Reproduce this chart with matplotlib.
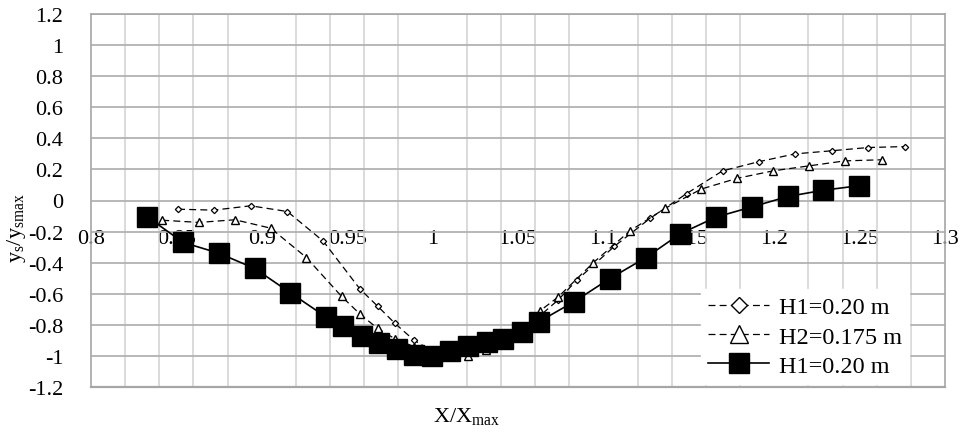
import matplotlib
matplotlib.use("Agg")
import matplotlib.pyplot as plt
from matplotlib.lines import Line2D
from matplotlib.ticker import FixedLocator, FixedFormatter, MultipleLocator
import numpy as np

plt.rcParams['font.family'] = ['Liberation Serif', 'DejaVu Serif']
plt.rcParams['mathtext.fontset'] = 'custom'
plt.rcParams['mathtext.rm'] = 'Liberation Serif'
plt.rcParams['lines.scale_dashes'] = False

# ---------------- data ----------------
x_h1_dash = [0.851, 0.872, 0.8935, 0.915, 0.936, 0.9575, 0.968, 0.978, 0.989, 1.0,
             1.0105, 1.021, 1.0315, 1.042, 1.0525, 1.063, 1.0735, 1.0847, 1.1064,
             1.1273, 1.1488, 1.1698, 1.1911, 1.2122, 1.2337, 1.2551, 1.2766]
y_h1_dash = [-0.056, -0.062, -0.034, -0.071, -0.262, -0.570, -0.682, -0.791, -0.898, -0.97,
             -0.985, -0.96, -0.93, -0.89, -0.83, -0.74, -0.64, -0.51, -0.295,
             -0.115, 0.045, 0.191, 0.250, 0.300, 0.320, 0.341, 0.347]

x_h2 = [0.8417, 0.8632, 0.8843, 0.9052, 0.9261, 0.9467, 0.9575, 0.9678, 0.978, 0.989,
        1.0, 1.0105, 1.021, 1.0315, 1.042, 1.0525, 1.0629, 1.0736, 1.0941, 1.1156,
        1.1362, 1.1574, 1.1784, 1.1995, 1.2205, 1.2414, 1.2629]
y_h2 = [-0.127, -0.141, -0.124, -0.178, -0.367, -0.617, -0.731, -0.823, -0.89, -0.94,
        -0.97, -0.99, -1.0, -0.96, -0.92, -0.85, -0.71, -0.62, -0.40, -0.195,
        -0.05, 0.074, 0.143, 0.191, 0.223, 0.255, 0.262]

x_h1_solid = [0.8329, 0.854, 0.8748, 0.8958, 0.9166, 0.9374, 0.9477, 0.9584, 0.9686, 0.979,
              0.9891, 0.9998, 1.0102, 1.0209, 1.0317, 1.0414, 1.0521, 1.0624, 1.083, 1.1038,
              1.1249, 1.145, 1.1659, 1.187, 1.2081, 1.2287, 1.2497]
y_h1_solid = [-0.105, -0.270, -0.339, -0.437, -0.593, -0.748, -0.808, -0.870, -0.920, -0.956,
              -0.994, -1.0, -0.971, -0.934, -0.913, -0.892, -0.849, -0.779, -0.650, -0.502,
              -0.367, -0.214, -0.107, -0.041, 0.026, 0.066, 0.095]

labels = ["H1=0.20 m", "H2=0.175 m", "H1=0.20 m"]

x_ticks = [0.8, 0.85, 0.9, 0.95, 1.0, 1.05, 1.1, 1.15, 1.2, 1.25, 1.3]
x_tick_labels = ["0.8", "0.85", "0.9", "0.95", "1", "1.05", "1.1", "1.15", "1.2", "1.25", "1.3"]
y_ticks = [1.2, 1.0, 0.8, 0.6, 0.4, 0.2, 0.0, -0.2, -0.4, -0.6, -0.8, -1.0, -1.2]
y_tick_labels = ["1.2", "1", "0.8", "0.6", "0.4", "0.2", "0", "-0.2", "-0.4", "-0.6", "-0.8", "-1", "-1.2"]

# ---------------- figure ----------------
fig = plt.figure(figsize=(9.63, 4.35), dpi=100)
ax = fig.add_axes([91/963, 1-388/435, (945-91)/963, (388-15)/435])

FS = 16
dash = (0, (5, 3))

ax.plot(x_h1_dash, y_h1_dash, color='black', lw=0.9, ls=dash, marker='D', ms=3.2,
        mfc='white', mec='black', mew=0.9, zorder=3)
ax.plot(x_h2, y_h2, color='black', lw=0.9, ls=dash, marker='^', ms=5.8,
        mfc='white', mec='black', mew=1.0, zorder=3)
ax.plot(x_h1_solid, y_h1_solid, color='black', lw=1.2, ls='-', marker='s', ms=14,
        mfc='black', mec='black', zorder=4)

ax.set_xlim(0.8, 1.3)
ax.set_ylim(-1.2, 1.2)

ax.xaxis.set_major_locator(FixedLocator(x_ticks))
ax.xaxis.set_major_formatter(FixedFormatter(x_tick_labels))
ax.xaxis.set_minor_locator(MultipleLocator(0.02))
ax.yaxis.set_major_locator(FixedLocator(y_ticks))
ax.yaxis.set_major_formatter(FixedFormatter(y_tick_labels))

ax.grid(which='minor', axis='x', color='#d4d4d4', lw=1.2, zorder=0)
ax.grid(which='major', axis='x', visible=False)
ax.grid(which='major', axis='y', color='#b2b2b2', lw=1.3, zorder=0)
ax.set_axisbelow(True)

ax.spines['bottom'].set_position(('data', -0.165))
ax.spines['bottom'].set_visible(False)
for s in ['left', 'right', 'top']:
    ax.spines[s].set_color('#a6a6a6')
    ax.spines[s].set_linewidth(1.2)
ax.axhline(-1.2, color='#a6a6a6', lw=1.6, zorder=1, clip_on=False)

ax.tick_params(axis='x', which='both', length=0, labelsize=FS, pad=2)
ax.tick_params(axis='y', which='both', length=0, labelsize=FS, pad=20)

ax.set_xlabel(r'$\mathregular{X/X_{max}}$', fontsize=FS)
ax.xaxis.set_label_coords((466.7-91)/854, (388-406)/373)
ax.set_ylabel(r'$\mathregular{y_s/y_{smax}}$', fontsize=FS)
ax.yaxis.set_label_coords((28-91)/854, (388-228)/373)

handles = [
    Line2D([], [], color='black', lw=0.9, ls=dash, marker='D', ms=8.5, mfc='white', mec='black', mew=1.0),
    Line2D([], [], color='black', lw=0.9, ls=dash, marker='^', ms=13, mfc='white', mec='black', mew=1.0),
    Line2D([], [], color='black', lw=1.2, ls='-', marker='s', ms=14, mfc='black', mec='black'),
]
leg = ax.legend(handles, labels, loc='upper left',
                bbox_to_anchor=((701-91)/854, (388-290)/373),
                fontsize=17.5, frameon=True, fancybox=False, framealpha=1,
                edgecolor='white', handlelength=2.5, handletextpad=0.4,
                labelspacing=0.3, borderpad=0.3, borderaxespad=0)
leg.set_zorder(5)

fig.savefig('out.png', dpi=100)
